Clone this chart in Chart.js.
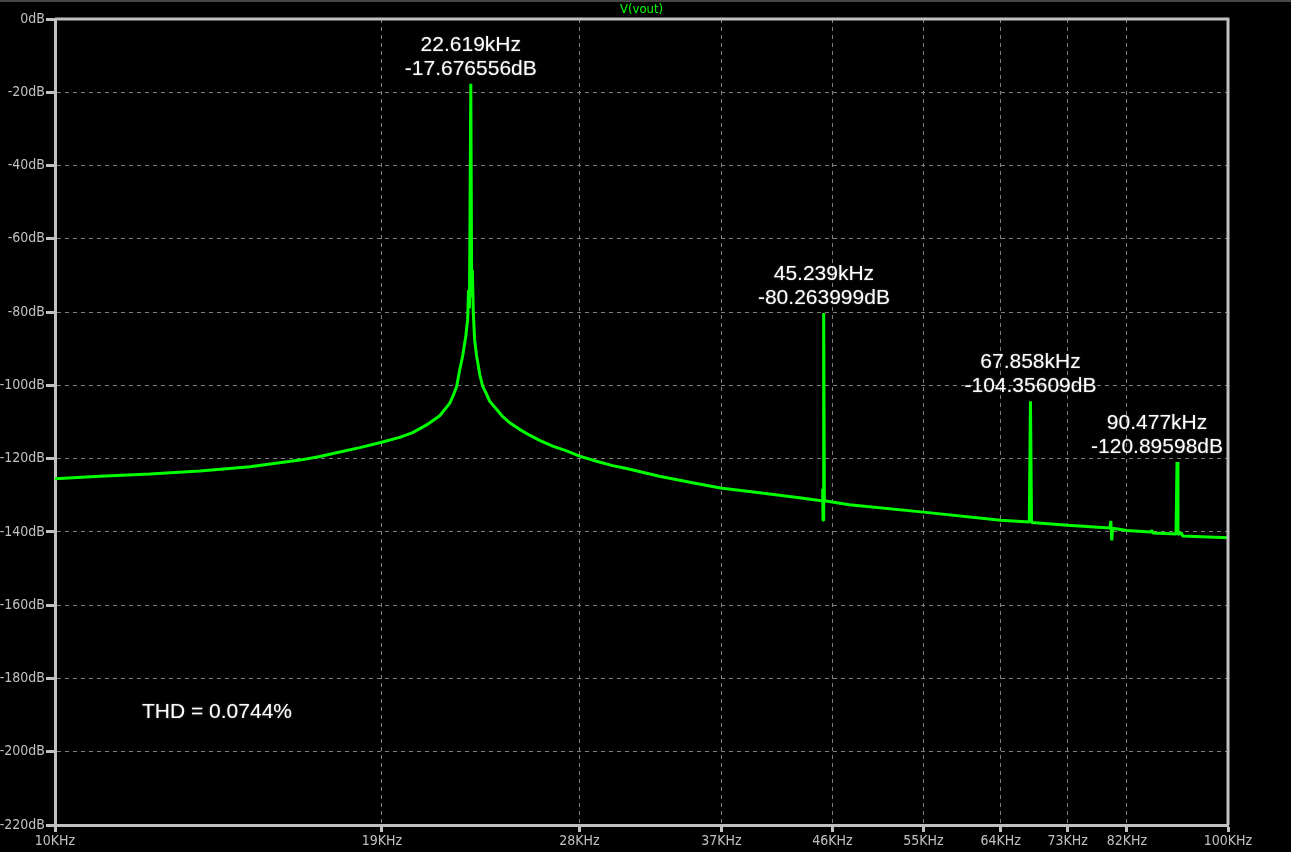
<!DOCTYPE html>
<html>
<head>
<meta charset="utf-8">
<title>V(vout) FFT</title>
<script src="https://cdn.jsdelivr.net/npm/chart.js@4.4.1/dist/chart.umd.min.js"></script>
<style>
  html, body { margin: 0; padding: 0; background: #000; }
  #wrap { position: relative; width: 1291px; height: 852px; }
</style>
</head>
<body>
<div id="wrap"><canvas id="fft"></canvas></div>
<script>
// FFT of V(vout): frequency in kHz, magnitude in dB
const freqKHz = [
  10.00, 10.92, 12.05, 13.29, 14.66, 16.17, 16.82, 17.49, 18.19, 18.95,
  19.67, 20.18, 20.74, 21.28, 21.70, 21.83, 22.00, 22.13, 22.26, 22.40,
  22.48, 22.52, 22.56, 22.619, 22.66, 22.69, 22.73, 22.79, 22.88, 23.02,
  23.15, 23.33, 23.47, 23.80, 24.08, 24.41, 24.89, 25.39, 25.89, 26.56,
  27.30, 28.00, 28.95, 29.88, 30.71, 32.75, 34.95, 36.93, 39.86, 43.12,
  45.00, 45.10, 45.13, 45.16, 45.20, 45.239, 45.28, 47.55, 55.00, 64.00,
  67.70, 67.858, 68.00, 73.00, 79.30, 79.45, 79.60, 79.75, 82.00, 85.90,
  86.10, 86.30, 90.30, 90.477, 90.65, 91.30, 91.45, 100.0
];
const magDb = [
  -125.5, -124.8, -124.2, -123.4, -122.2, -120.4, -119.4, -118.2, -117.0, -115.6,
  -114.2, -112.9, -110.8, -108.3, -104.9, -103.1, -100.3, -95.8, -92.0, -86.5,
  -82.0, -74.0, -79.0, -17.68, -76.0, -68.5, -80.0, -87.6, -92.0, -97.0,
  -100.2, -102.4, -104.3, -106.6, -108.5, -110.2, -112.0, -113.6, -115.0, -116.6,
  -117.9, -119.3, -120.7, -121.9, -122.7, -124.8, -126.6, -128.0, -129.3, -130.7,
  -131.5, -131.6, -128.2, -136.8, -131.4, -80.26, -131.5, -132.6, -134.6, -136.8,
  -137.3, -104.36, -137.4, -138.2, -138.9, -137.0, -142.3, -139.0, -139.6, -140.0,
  -139.6, -140.3, -140.6, -120.9, -140.7, -140.3, -141.1, -141.6
];

// axis ticks
const xTicks = [10, 19, 28, 37, 46, 55, 64, 73, 82, 100];
const yTicks = [0, -20, -40, -60, -80, -100, -120, -140, -160, -180, -200, -220];

// harmonic cursor readouts
const peakFreq = [22.619, 45.239, 67.858, 90.477];
const peakDb = [-17.676556, -80.263999, -104.35609, -120.89598];

const traceName = 'V(vout)';
const thdText = 'THD = 0.0744%';

const AXIS = '#c0c0c0';
const GRID = '#808080';
const TRACE = '#00ff00';
const TICK_FONT = { family: '"DejaVu Sans Condensed", "Liberation Sans Narrow", "DejaVu Sans", sans-serif', size: 14 };

const overlay = {
  id: 'overlay',
  beforeDraw(chart) {
    const { ctx, width, height } = chart;
    ctx.save();
    ctx.fillStyle = '#000';
    ctx.fillRect(0, 0, width, height);
    ctx.fillStyle = '#474747';
    ctx.fillRect(0, 0, width, 2);
    ctx.restore();
  },
  afterDatasetsDraw(chart) {
    const { ctx, chartArea: a, scales: { x, y } } = chart;
    ctx.save();

    // close the plot box on top and right
    ctx.strokeStyle = AXIS;
    ctx.lineWidth = 3;
    ctx.beginPath();
    ctx.moveTo(a.left, a.top);
    ctx.lineTo(a.right, a.top);
    ctx.lineTo(a.right, a.bottom);
    ctx.stroke();

    // trace name above the plot
    ctx.fillStyle = TRACE;
    ctx.font = '13px ' + TICK_FONT.family;
    ctx.textAlign = 'center';
    ctx.textBaseline = 'middle';
    ctx.fillText(traceName, (a.left + a.right) / 2, a.top - 9);

    // peak readouts
    ctx.font = '21px "Liberation Sans", Arial, sans-serif';
    ctx.fillStyle = '#ffffff';
    ctx.shadowColor = 'rgba(255,255,255,0.35)';
    ctx.shadowBlur = 2;
    peakFreq.forEach((f, i) => {
      const l1 = String(f) + 'kHz';
      const l2 = String(peakDb[i]) + 'dB';
      const px = x.getPixelForValue(f);
      const py = y.getPixelForValue(peakDb[i]);
      const half = Math.max(ctx.measureText(l1).width, ctx.measureText(l2).width) / 2;
      const cx = Math.min(px, a.right - 5 - half);
      ctx.fillText(l1, cx, py - 39);
      ctx.fillText(l2, cx, py - 15);
    });

    ctx.textAlign = 'left';
    ctx.fillText(thdText, a.left + 87, a.top + 693);
    ctx.restore();
  }
};

new Chart(document.getElementById('fft'), {
  type: 'line',
  data: {
    datasets: [{
      label: traceName,
      data: freqKHz.map((f, i) => ({ x: f, y: magDb[i] })),
      borderColor: TRACE,
      borderWidth: 3,
      borderJoinStyle: 'bevel',
      pointRadius: 0,
      tension: 0,
      fill: false
    }]
  },
  options: {
    responsive: true,
    maintainAspectRatio: false,
    animation: false,
    layout: { padding: { top: 19, right: 63, left: 0, bottom: 0 } },
    plugins: { legend: { display: false }, tooltip: { enabled: false } },
    scales: {
      x: {
        type: 'logarithmic',
        min: 10, max: 100,
        afterBuildTicks: s => { s.ticks = xTicks.map(v => ({ value: v })); },
        afterFit: s => { s.height = 27; },
        ticks: { callback: v => v + 'KHz', color: AXIS, font: TICK_FONT, autoSkip: false, maxRotation: 0, padding: 1 },
        grid: { color: GRID, lineWidth: 1, tickLength: 7, tickColor: AXIS, tickWidth: 3 },
        border: { color: AXIS, width: 3, dash: [4, 4] }
      },
      y: {
        min: -220, max: 0,
        afterBuildTicks: s => { s.ticks = yTicks.map(v => ({ value: v })); },
        afterFit: s => { s.width = 55; },
        ticks: { callback: v => v + 'dB', color: AXIS, font: TICK_FONT, padding: 1 },
        grid: { color: GRID, lineWidth: 1, tickLength: 9, tickColor: AXIS, tickWidth: 3 },
        border: { color: AXIS, width: 3, dash: [4, 4] }
      }
    }
  },
  plugins: [overlay]
});
</script>
</body>
</html>
